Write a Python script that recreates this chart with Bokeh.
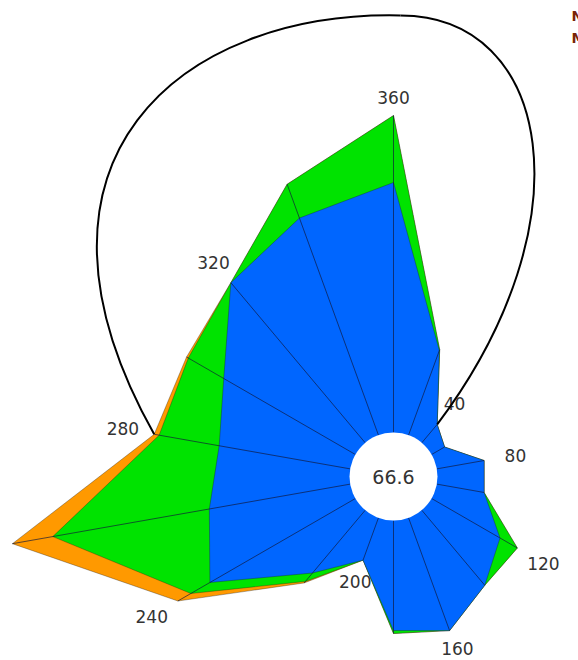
import numpy as np
from bokeh.plotting import figure
from bokeh.models import Range1d
from bokeh.embed import file_html
from bokeh.resources import INLINE
from bokeh.core.properties import value

# ---------------- data ----------------
directions = [0, 20, 40, 60, 80, 100, 120, 140, 160, 180, 200, 220, 240, 260, 280, 300, 320, 340]
blue_band = [25.0, 9.0, 2.4, 1.5, 4.8, 4.8, 7.9, 9.8, 12.0, 11.0, 4.5, 8.2, 16.8, 14.3, 13.3, 15.2, 20.9, 23.1]
green_band = [6.7, 0.1, 0.0, 0.0, 0.0, 0.0, 2.0, 0.0, 0.0, 0.3, 0.0, 1.1, 2.2, 15.9, 6.1, 4.1, 0.0, 3.6]
orange_band = [0.0, 0.0, 0.0, 0.0, 0.0, 0.0, 0.0, 0.0, 0.0, 0.0, 0.0, 0.2, 1.5, 4.1, 0.5, 0.2, 0.0, 0.0]
label_dirs = [40, 80, 120, 160, 200, 240, 280, 320, 360]
calm_text = "66.6"
legend_labels = ["N", "M"]

# ---------------- layout / style ----------------
W, H = 578, 660
CX, CY = 393, 476          # centre of the rose in figure pixels
HOLE = 44                  # radius of the calm circle (px)
SCALE = 10                 # px per unit
FONT = "DejaVu Sans"
COL_ORANGE = "#FF9900"
COL_GREEN = "#00E300"
COL_BLUE = "#0066FF"

p = figure(width=W, height=H,
           x_range=Range1d(-CX, W - CX), y_range=Range1d(-(H - CY), CY),
           output_backend="svg", toolbar_location=None, min_border=0,
           x_axis_location=None, y_axis_location=None)
p.grid.visible = False
p.outline_line_color = None
p.background_fill_color = "white"
p.border_fill_color = "white"

th = np.radians(np.array(directions, dtype=float))
b = np.array(blue_band)
g = np.array(green_band)
o = np.array(orange_band)
r_blue = HOLE + SCALE * b
r_green = HOLE + SCALE * (b + g)
r_orange = HOLE + SCALE * (b + g + o)


def poly(r):
    return list(r * np.sin(th)), list(r * np.cos(th))


for r, col in [(r_orange, COL_ORANGE), (r_green, COL_GREEN), (r_blue, COL_BLUE)]:
    xs, ys = poly(r)
    p.patch(xs, ys, fill_color=col, line_color="#1a1a1a", line_width=0.6, line_alpha=0.55)

# spokes
p.segment(x0=HOLE * np.sin(th), y0=HOLE * np.cos(th),
          x1=r_orange * np.sin(th), y1=r_orange * np.cos(th),
          line_color="#10183a", line_width=0.8, line_alpha=0.85)

# calm circle
p.circle(x=[0], y=[0], radius=HOLE, fill_color="white", line_color=None)
p.text(x=[0], y=[0], text=[calm_text], text_align="center", text_baseline="middle",
       text_font=value(FONT), text_font_size="19px", text_color="#333333")

# direction labels
lab_x, lab_y, lab_t = [], [], []
y_floor = -(H - CY) + 12
for d in label_dirs:
    i = directions.index(d % 360)
    a = np.radians(d)
    rr = r_orange[i] + 18 + 14 * abs(np.sin(a))
    lab_x.append(rr * np.sin(a))
    lab_y.append(max(rr * np.cos(a), y_floor))
    lab_t.append(str(d))
p.text(x=lab_x, y=lab_y, text=lab_t, text_align="center", text_baseline="middle",
       text_font=value(FONT), text_font_size="17px", text_color="#333333")

# black loop joining the 280 and 40 outer vertices
i280 = directions.index(280)
i40 = directions.index(40)
sx, sy = r_orange[i280] * np.sin(th[i280]), r_orange[i280] * np.cos(th[i280])
ex, ey = r_orange[i40] * np.sin(th[i40]), r_orange[i40] * np.cos(th[i40])
top_x, top_y = 7, 461
p.bezier(x0=[sx, top_x], y0=[sy, top_y], x1=[top_x, ex], y1=[top_y, ey],
         cx0=[-393, 157], cy0=[316, 461], cx1=[-213, 197], cy1=[466, 256],
         line_color="black", line_width=2)

# legend (cut by the page edge, as in the reference)
p.text(x=[178, 178], y=[461, 439], text=legend_labels, text_align="left", text_baseline="middle",
       text_font=value(FONT), text_font_size="14px", text_font_style="bold", text_color="#7a2408")

open("out.html", "w").write(file_html(p, INLINE))
